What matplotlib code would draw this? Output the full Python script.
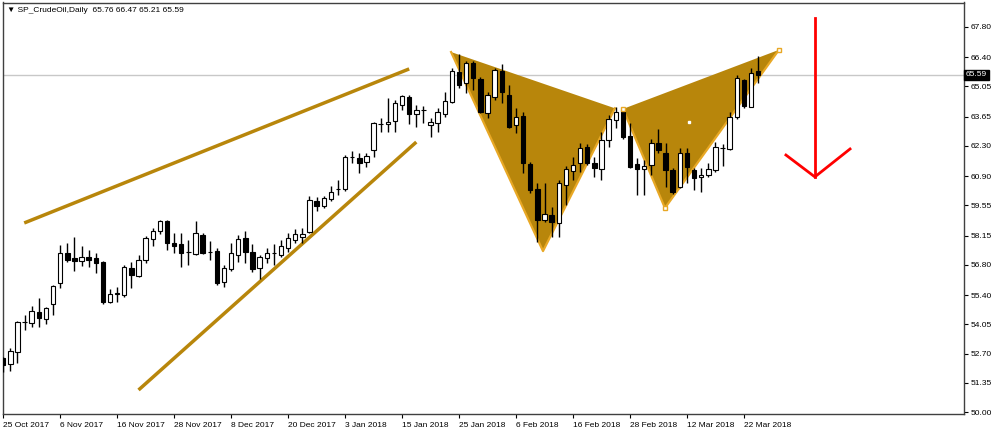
import numpy as np
import matplotlib
matplotlib.use("Agg")
import matplotlib.pyplot as plt

# Cours journaliers (barres 0 = 25 Oct 2017 ... 106 = 26 Mar 2018)
opens = [52.50, 52.22, 52.78, 54.14, 54.12, 54.62, 54.30, 54.99, 55.96, 57.35,
         57.12, 56.98, 57.17, 57.12, 56.94, 55.09, 55.46, 55.41, 56.66, 56.29,
         57.03, 58.00, 58.37, 58.83, 57.81, 57.77, 57.41, 57.31, 58.18, 57.41,
         57.44, 56.01, 56.61, 57.26, 58.05, 57.40, 56.66, 57.12, 57.36, 57.26,
         57.58, 57.95, 58.09, 58.32, 59.76, 59.53, 59.85, 60.30, 60.31, 61.80,
         61.74, 61.56, 62.11, 63.31, 63.32, 63.45, 64.19, 64.56, 63.78, 63.97,
         63.27, 63.36, 63.78, 64.33, 65.72, 65.21, 66.14, 65.40, 63.82, 64.56,
         65.77, 64.66, 63.27, 63.69, 61.47, 60.31, 58.88, 59.11, 58.74, 60.50,
         61.14, 61.51, 62.25, 61.51, 61.23, 62.58, 63.50, 63.96, 62.76, 61.47,
         61.23, 61.42, 62.44, 61.97, 61.19, 60.40, 61.97, 61.19, 60.87, 60.96,
         61.19, 62.20, 62.16, 63.64, 65.35, 64.10, 65.76]
closes = [52.17, 52.82, 54.16, 54.16, 54.67, 54.35, 54.81, 55.83, 57.35, 57.03,
          56.98, 57.17, 57.03, 56.89, 55.09, 55.46, 55.50, 56.70, 56.33, 57.03,
          58.05, 58.37, 58.83, 57.81, 57.68, 57.35, 57.39, 58.28, 57.35, 57.39,
          55.96, 56.66, 57.35, 58.00, 57.40, 56.61, 57.17, 57.35, 57.34, 57.68,
          58.05, 58.23, 58.23, 59.80, 59.53, 59.90, 60.17, 60.32, 61.79, 61.78,
          61.51, 61.84, 63.36, 63.33, 63.41, 64.29, 64.61, 63.78, 63.96, 63.95,
          63.41, 63.87, 64.38, 65.77, 65.12, 66.14, 65.44, 63.87, 64.66, 65.81,
          64.79, 63.18, 63.64, 61.51, 60.26, 58.88, 59.16, 58.78, 60.59, 61.23,
          61.42, 62.21, 61.51, 61.28, 62.58, 63.55, 63.87, 62.71, 61.33, 61.23,
          61.37, 62.44, 62.11, 61.19, 60.17, 61.97, 61.33, 60.82, 60.96, 61.23,
          62.25, 62.21, 63.64, 65.44, 64.15, 65.67, 65.59]
highs = [52.54, 52.96, 54.21, 54.49, 54.90, 55.27, 54.85, 55.87, 57.72, 57.81,
         58.09, 57.68, 57.49, 57.35, 56.96, 55.69, 55.78, 56.80, 56.94, 57.26,
         58.14, 58.51, 58.88, 58.88, 58.28, 58.28, 57.95, 58.83, 58.28, 57.91,
         57.58, 56.80, 57.81, 58.18, 58.37, 57.77, 57.26, 57.58, 57.77, 57.95,
         58.28, 58.46, 58.51, 59.99, 59.94, 59.99, 60.45, 60.73, 61.88, 62.07,
         61.97, 61.97, 63.40, 63.59, 64.52, 64.42, 64.66, 64.66, 64.19, 64.15,
         63.59, 64.04, 64.79, 65.90, 66.55, 66.23, 66.23, 65.49, 64.79, 65.90,
         66.09, 65.12, 64.04, 63.87, 61.56, 60.59, 60.59, 59.48, 60.73, 61.37,
         61.79, 62.44, 62.39, 61.79, 62.95, 63.73, 64.10, 64.04, 63.36, 61.74,
         61.65, 62.62, 63.09, 62.44, 61.28, 62.21, 62.21, 61.28, 61.28, 61.51,
         62.48, 62.39, 63.87, 65.58, 65.40, 65.90, 66.47]
lows = [51.85, 51.90, 52.27, 53.79, 53.93, 53.93, 54.07, 54.49, 55.73, 56.94,
        56.52, 56.75, 56.70, 56.43, 54.99, 55.04, 55.09, 55.32, 55.73, 56.24,
        56.89, 57.68, 58.23, 57.49, 57.35, 56.70, 56.80, 57.26, 57.31, 57.03,
        55.87, 55.78, 56.52, 56.94, 56.89, 56.47, 56.15, 56.89, 56.80, 57.17,
        57.40, 57.81, 57.81, 58.28, 59.30, 59.43, 59.76, 60.03, 60.22, 61.51,
        61.05, 61.33, 61.79, 62.95, 62.95, 62.95, 63.96, 63.32, 63.18, 63.36,
        62.71, 62.95, 63.64, 64.29, 64.98, 64.75, 64.89, 63.82, 63.59, 64.42,
        64.29, 63.15, 62.90, 61.05, 60.13, 57.86, 58.78, 58.09, 58.09, 59.57,
        60.73, 61.10, 61.42, 60.87, 60.73, 62.25, 63.13, 62.62, 61.28, 60.03,
        60.03, 60.96, 61.97, 60.40, 60.08, 60.36, 60.59, 60.26, 60.17, 60.87,
        61.10, 61.37, 62.11, 63.55, 64.04, 64.10, 65.21]

date_ticks = [0, 8, 16, 24, 32, 40, 48, 56, 64, 72, 80, 88, 96, 104]
date_labels = ["25 Oct 2017", "6 Nov 2017", "16 Nov 2017", "28 Nov 2017",
               "8 Dec 2017", "20 Dec 2017", "3 Jan 2018", "15 Jan 2018",
               "25 Jan 2018", "6 Feb 2018", "16 Feb 2018", "28 Feb 2018",
               "12 Mar 2018", "22 Mar 2018"]
price_ticks = [67.80, 66.40, 65.05, 63.65, 62.30, 60.90, 59.55, 58.15,
               56.80, 55.40, 54.05, 52.70, 51.35, 50.00]
last_price = 65.59

# Objets dessinés (barre, prix)
upper_line_x = [2.95, 57.0]
upper_line_y = [58.74, 65.86]
lower_line_x = [19.0, 58.0]
lower_line_y = [51.02, 62.48]
tri1_x = [62.88, 75.79, 85.89]   # X, A, B
tri1_y = [66.64, 57.44, 64.04]
tri2_x = [87.02, 92.91, 108.91]  # B, C, D
tri2_y = [64.01, 59.43, 66.74]
arrow_shaft_x = [113.96, 113.96]
arrow_shaft_y = [68.22, 60.87]
arrow_head_x = [109.9, 113.96, 118.9]
arrow_head_y = [61.88, 60.87, 62.16]

gold = "#B8860B"
gold_light = "#E8A825"

fig = plt.figure(figsize=(10, 4.34), dpi=100)
ax = fig.add_axes([0.0025, 20 / 434, 961.5 / 1000, 411.5 / 434])

# ligne du dernier prix
ax.axhline(last_price, color="#C8C8C8", lw=1, zorder=0)

# lignes de tendance
ax.plot(upper_line_x, upper_line_y, color=gold, lw=2.5, zorder=2,
        solid_capstyle="butt")
ax.plot(lower_line_x, lower_line_y, color=gold, lw=2.5, zorder=2,
        solid_capstyle="butt")

# motif papillon
for tx, ty in [(tri1_x, tri1_y), (tri2_x, tri2_y)]:
    ax.fill(tx, ty, color=gold, lw=0, zorder=1)
    ax.plot(tx, ty, color=gold_light, lw=1.6, zorder=1.5)
ax.plot(tri2_x, tri2_y, ls="none", marker="s", ms=3.5, mfc="white",
        mec=gold_light, mew=1, zorder=6)
ax.plot([np.mean(tri2_x)], [np.mean(tri2_y)], ls="none", marker="s", ms=2,
        mfc="white", mec="white", zorder=6)

# bougies
o = np.array(opens)
c = np.array(closes)
idx = np.arange(len(o))
ax.vlines(idx, lows, highs, color="black", lw=1, zorder=3)
bottom = np.minimum(o, c)
height = np.maximum(np.abs(c - o), 0.025)
colors = np.where(c >= o, "white", "black")
ax.bar(idx, height, bottom=bottom, width=0.62, color=colors,
       edgecolor="black", lw=0.8, zorder=4)

# flèche rouge
ax.plot(arrow_shaft_x, arrow_shaft_y, color="#FF0000", lw=2, zorder=5)
ax.plot(arrow_head_x, arrow_head_y, color="#FF0000", lw=2, zorder=5)

ax.set_xlim(-0.1, 134.9)
ax.set_ylim(49.91, 68.93)

ax.yaxis.tick_right()
ax.set_yticks(price_ticks)
ax.set_yticklabels([f"{p:.2f}" for p in price_ticks])
ax.set_xticks(date_ticks)
ax.set_xticklabels(date_labels, ha="left")
ax.tick_params(axis="both", labelsize=6, length=3, width=0.8, pad=2,
               colors="black")
ax.tick_params(axis="x", pad=3)
for lab in ax.get_xticklabels() + ax.get_yticklabels():
    lab.set_fontfamily("Liberation Sans")
for sp in ax.spines.values():
    sp.set_color("#404040")
    sp.set_linewidth(1)

ax.text(0.005, 0.99, "\u25bc SP_CrudeOil,Daily  65.76 66.47 65.21 65.59",
        transform=ax.transAxes, fontsize=6, va="top", ha="left",
        family=["Liberation Sans", "DejaVu Sans"])

ax.text(1.002, last_price, f"{last_price:.2f}", transform=ax.get_yaxis_transform(),
        fontsize=6, color="white", va="center", ha="left",
        family="Liberation Sans", zorder=10,
        bbox=dict(facecolor="black", edgecolor="black", pad=1.2))

fig.savefig("out.png", dpi=100, facecolor="white")
